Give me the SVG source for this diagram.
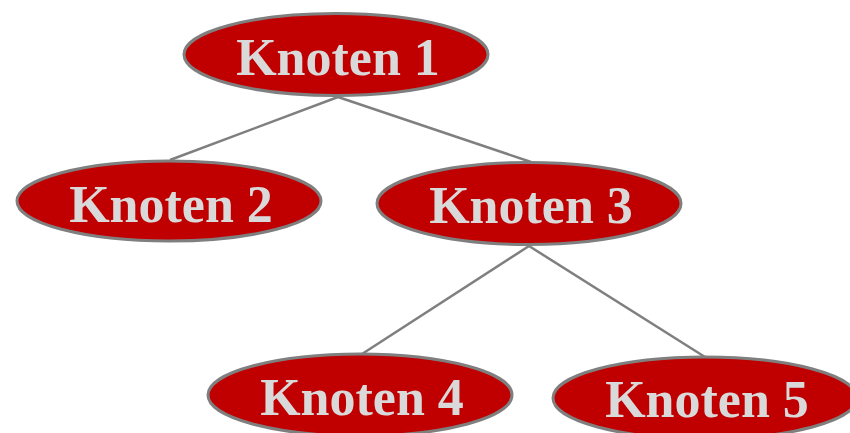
<svg xmlns="http://www.w3.org/2000/svg" width="850" height="433" viewBox="0 0 850 433">
<style>
.n ellipse{fill:#c00000;stroke:#7f7f7f;stroke-width:3}
.n text{fill:#d9d9d9;font-family:"Liberation Serif","Times New Roman",serif;font-weight:bold;font-size:52px;text-anchor:middle}
.c line{stroke:#7f7f7f;stroke-width:2.5}
</style>
<rect width="850" height="433" fill="#fff"/>
<g id="connectors" class="c">
<line x1="338" y1="97" x2="170" y2="160"/>
<line x1="338" y1="97" x2="531" y2="162"/>
<line x1="529" y1="246" x2="362" y2="354"/>
<line x1="529" y1="246" x2="705" y2="357"/>
</g>
<g id="knoten1" class="n"><ellipse cx="336" cy="54.5" rx="152" ry="41"/><text x="338" y="75">Knoten 1</text></g>
<g id="knoten2" class="n"><ellipse cx="169" cy="201" rx="152" ry="40"/><text x="171" y="222">Knoten 2</text></g>
<g id="knoten3" class="n"><ellipse cx="529" cy="203.5" rx="152" ry="41"/><text x="531" y="223">Knoten 3</text></g>
<g id="knoten4" class="n"><ellipse cx="360" cy="395" rx="152" ry="41"/><text x="362" y="415">Knoten 4</text></g>
<g id="knoten5" class="n"><ellipse cx="705" cy="398" rx="152" ry="41"/><text x="707" y="417">Knoten 5</text></g>
</svg>
